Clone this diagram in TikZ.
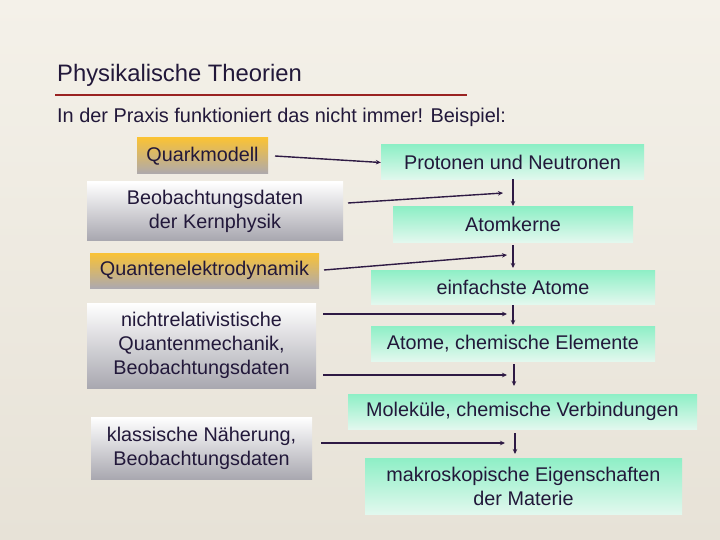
\documentclass[tikz,border=0pt]{standalone}
\usepackage{fontspec}
\setmainfont{Liberation Sans}
\usetikzlibrary{arrows.meta}
\definecolor{txt}{HTML}{22183A}
\definecolor{bgtop}{HTML}{F4F1E9}
\definecolor{bgbot}{HTML}{E7E2D7}
\definecolor{mint}{HTML}{8EEFC6}
\definecolor{mintlight}{HTML}{E2F8EE}
\definecolor{orng}{HTML}{F9C236}
\definecolor{grayb}{HTML}{ADA9AE}
\definecolor{grayc}{HTML}{A9A8B0}
\definecolor{rline}{HTML}{9A2222}
\definecolor{arr}{HTML}{2E1A44}
\tikzset{
  boxtext/.style={text=txt,font=\fontsize{19.8}{24}\selectfont,align=center,inner sep=0pt},
  greenbox/.style={boxtext,top color=mint,bottom color=mintlight},
  graybox/.style={boxtext,top color=white,bottom color=grayc},
  orangebox/.style={boxtext,top color=orng,bottom color=grayb},
  conn/.style={draw=arr,line width=1.4pt,-{Stealth[length=5pt,width=4.5pt]}},
}
\begin{document}
\begin{tikzpicture}[x=1pt,y=-1pt]
\useasboundingbox (0,0) rectangle (720,540);
\shade[top color=bgtop,bottom color=bgbot] (0,0) rectangle (720,540);
% title
\node[anchor=base west,inner sep=0pt,text=txt,font=\fontsize{23.8}{26}\selectfont] (title) at (57,82) {Physikalische Theorien};
\draw[rline,line width=2pt] (55,95) -- (467,95);
\node[anchor=base west,inner sep=0pt,text=txt,font=\fontsize{19.9}{22}\selectfont] (sub) at (57,123) {In der Praxis funktioniert das nicht immer! Beispiel:};
% left boxes
\node[orangebox,minimum width=131,minimum height=36] (qm) at (202.5,156) {Quarkmodell};
\node[graybox,minimum width=256,minimum height=58] (kern) at (215,211) {Beobachtungsdaten\\der Kernphysik};
\node[orangebox,minimum width=229,minimum height=35] (qed) at (204.5,270.5) {Quantenelektrodynamik};
\node[graybox,minimum width=229,minimum height=85] (nrq) at (201.5,345.5) {nichtrelativistische\\Quantenmechanik,\\Beobachtungsdaten};
\node[graybox,minimum width=221,minimum height=62] (kl) at (201.5,448) {klassische Näherung,\\Beobachtungsdaten};
% right boxes
\node[greenbox,minimum width=263,minimum height=35] (pn) at (512.5,162.5) {Protonen und Neutronen};
\node[greenbox,minimum width=240,minimum height=35] (ak) at (513,224.5) {Atomkerne};
\node[greenbox,minimum width=284,minimum height=34] (ea) at (513,287) {einfachste Atome};
\node[greenbox,minimum width=284,minimum height=35] (ac) at (513,343.5) {Atome, chemische Elemente};
\node[greenbox,minimum width=349,minimum height=35] (mo) at (522.5,411.5) {Moleküle, chemische Verbindungen};
\node[greenbox,minimum width=317,minimum height=56] (ma) at (523.5,486) {makroskopische Eigenschaften\\der Materie};
% arrow end coordinates
\coordinate (e1) at (503,193);
\coordinate (e2) at (507,255);
\coordinate (e3) at (507,314);
\coordinate (e4) at (507,375);
\coordinate (e5) at (505,443);
% horizontal connectors
\draw[conn] (275,156) -- (pn.west);
\draw[conn] (348,203) -- (e1);
\draw[conn] (324,270) -- (e2);
\draw[conn] (323,314) -- (e3);
\draw[conn] (323,375) -- (e4);
\draw[conn] (321,443) -- (e5);
% vertical connectors
\draw[conn] (513,179) -- (513,206);
\draw[conn] (513,245) -- (513,268);
\draw[conn] (513,305) -- (513,325);
\draw[conn] (514,364) -- (514,386);
\draw[conn] (515,433) -- (515,454);
\end{tikzpicture}
\end{document}
